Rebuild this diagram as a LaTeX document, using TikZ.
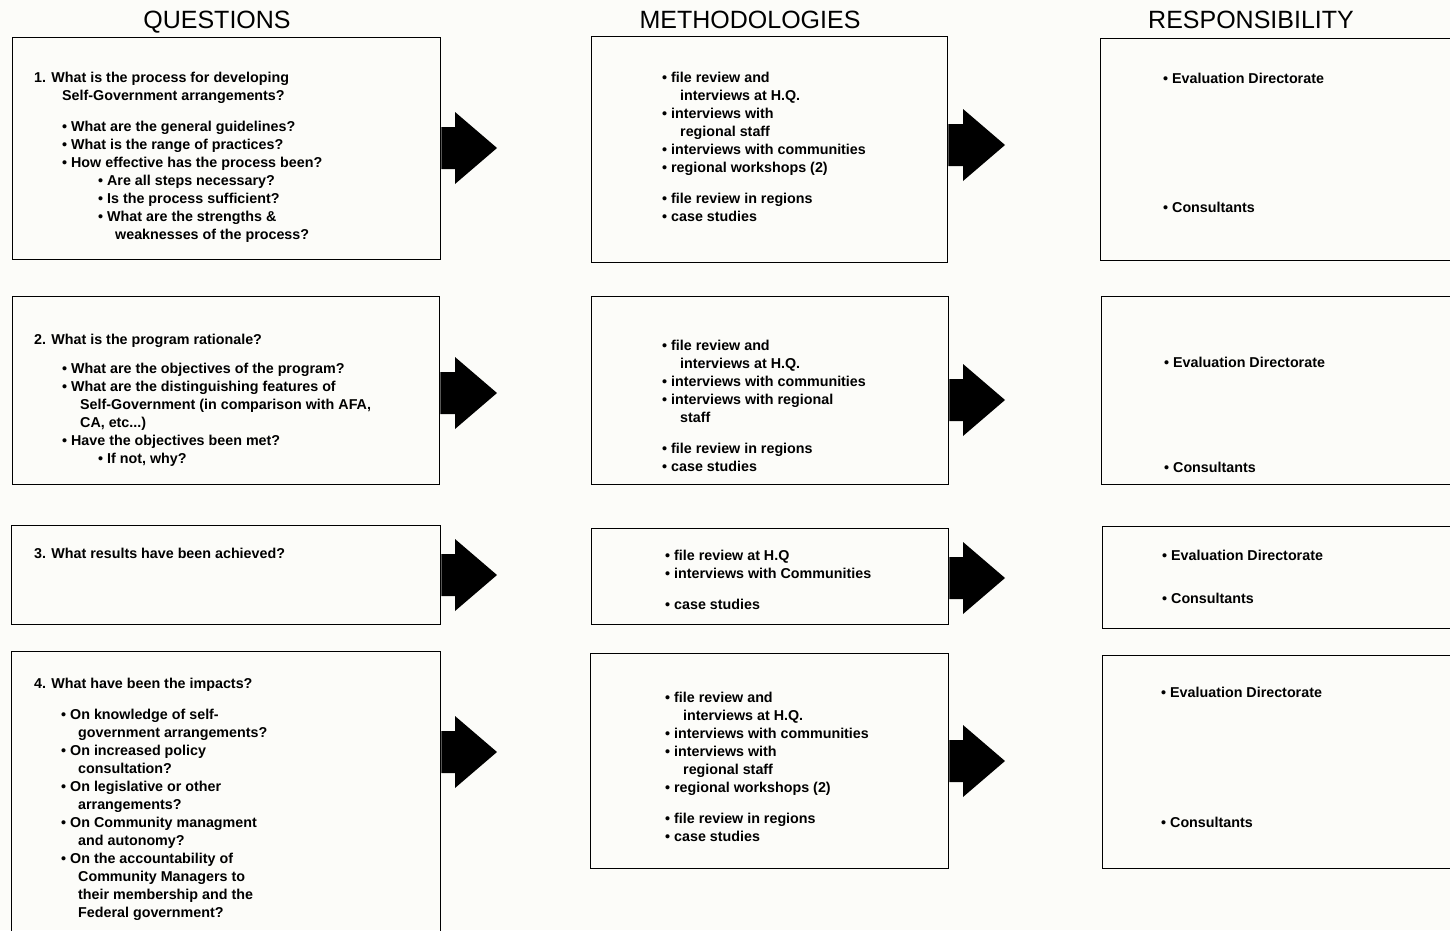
\documentclass[tikz,border=0pt]{standalone}
\usepackage{fontspec}
\setmainfont{Liberation Sans}
\usetikzlibrary{calc}
\definecolor{paper}{RGB}{252,252,249}
\newcommand\fatarrow[2]{\fill[black] ($(#1)+(0,-21)$) -- ($(#2)+(-42,-21)$) -- ($(#2)+(-42,-36)$) -- (#2) -- ($(#2)+(-42,36)$) -- ($(#2)+(-42,21)$) -- ($(#1)+(0,21)$) -- cycle;}
\begin{document}
\begin{tikzpicture}[x=1pt,y=-1pt,
  box/.style={draw=black, line width=1.3pt, inner sep=0pt, anchor=north west},
  txt/.style={anchor=north west, inner sep=0pt, align=left, font=\fontsize{14.3}{18}\selectfont\bfseries},
  title/.style={anchor=base, inner sep=0pt, font=\fontsize{25}{30}\selectfont}]
\useasboundingbox (0,0) rectangle (1450,930);
\clip (0,0) rectangle (1450,930);
\fill[paper] (0,0) rectangle (1450,930);

% titles
\node[title] (tq) at (217,28) {QUESTIONS};
\node[title] (tm) at (750,28) {METHODOLOGIES};
\node[title] (tr) at (1251,28) {RESPONSIBILITY};

% boxes
\node[box, minimum width=428pt, minimum height=222pt] (q1) at (12,37) {};
\node[box, minimum width=427pt, minimum height=188pt] (q2) at (12,296) {};
\node[box, minimum width=429pt, minimum height=99pt] (q3) at (11,525) {};
\node[box, minimum width=429pt, minimum height=300pt] (q4) at (11,651) {};
\node[box, minimum width=356pt, minimum height=226pt] (m1) at (591,36) {};
\node[box, minimum width=357pt, minimum height=188pt] (m2) at (591,296) {};
\node[box, minimum width=357pt, minimum height=96pt] (m3) at (591,528) {};
\node[box, minimum width=358pt, minimum height=215pt] (m4) at (590,653) {};
\node[box, minimum width=360pt, minimum height=222pt] (r1) at (1100,38) {};
\node[box, minimum width=360pt, minimum height=188pt] (r2) at (1101,296) {};
\node[box, minimum width=360pt, minimum height=102pt] (r3) at (1102,526) {};
\node[box, minimum width=360pt, minimum height=213pt] (r4) at (1102,655) {};

% question texts
\node[txt] (q1t) at (34,72) {1. What is the process for developing\\
\hspace*{28pt}Self-Government arrangements?\\[13pt]
\hspace*{28pt}• What are the general guidelines?\\
\hspace*{28pt}• What is the range of practices?\\
\hspace*{28pt}• How effective has the process been?\\
\hspace*{64pt}• Are all steps necessary?\\
\hspace*{64pt}• Is the process sufficient?\\
\hspace*{64pt}• What are the strengths \&\\
\hspace*{81pt}weaknesses of the process?};
\node[txt] (q2t) at (34,334) {2. What is the program rationale?\\[11pt]
\hspace*{28pt}• What are the objectives of the program?\\
\hspace*{28pt}• What are the distinguishing features of\\
\hspace*{46pt}Self-Government (in comparison with AFA,\\
\hspace*{46pt}CA, etc...)\\
\hspace*{28pt}• Have the objectives been met?\\
\hspace*{64pt}• If not, why?};
\node[txt] (q3t) at (34,548) {3. What results have been achieved?};
\node[txt] (q4t) at (34,678) {4. What have been the impacts?\\[13pt]
\hspace*{27pt}• On knowledge of self-\\
\hspace*{44pt}government arrangements?\\
\hspace*{27pt}• On increased policy\\
\hspace*{44pt}consultation?\\
\hspace*{27pt}• On legislative or other\\
\hspace*{44pt}arrangements?\\
\hspace*{27pt}• On Community managment\\
\hspace*{44pt}and autonomy?\\
\hspace*{27pt}• On the accountability of\\
\hspace*{44pt}Community Managers to\\
\hspace*{44pt}their membership and the\\
\hspace*{44pt}Federal government?};

% methodology texts
\node[txt] (m1t) at (662,72) {• file review and\\
\hspace*{18pt}interviews at H.Q.\\
• interviews with\\
\hspace*{18pt}regional staff\\
• interviews with communities\\
• regional workshops (2)\\[13pt]
• file review in regions\\
• case studies};
\node[txt] (m2t) at (662,340) {• file review and\\
\hspace*{18pt}interviews at H.Q.\\
• interviews with communities\\
• interviews with regional\\
\hspace*{18pt}staff\\[13pt]
• file review in regions\\
• case studies};
\node[txt] (m3t) at (665,550) {• file review at H.Q\\
• interviews with Communities\\[13pt]
• case studies};
\node[txt] (m4t) at (665,692) {• file review and\\
\hspace*{18pt}interviews at H.Q.\\
• interviews with communities\\
• interviews with\\
\hspace*{18pt}regional staff\\
• regional workshops (2)\\[13pt]
• file review in regions\\
• case studies};

% responsibility texts
\node[txt] (r1a) at (1163,73) {• Evaluation Directorate};
\node[txt] (r1b) at (1163,202) {• Consultants};
\node[txt] (r2a) at (1164,357) {• Evaluation Directorate};
\node[txt] (r2b) at (1164,462) {• Consultants};
\node[txt] (r3a) at (1162,550) {• Evaluation Directorate};
\node[txt] (r3b) at (1162,593) {• Consultants};
\node[txt] (r4a) at (1161,687) {• Evaluation Directorate};
\node[txt] (r4b) at (1161,817) {• Consultants};

% arrow tips
\coordinate (a1t) at (497,148);
\coordinate (a2t) at (497,393);
\coordinate (a3t) at (497,575);
\coordinate (a4t) at (497,752);
\coordinate (b1t) at (1005,145);
\coordinate (b2t) at (1005,400);
\coordinate (b3t) at (1005,578);
\coordinate (b4t) at (1005,761);
\coordinate (a1s) at (q1.east |- a1t);
\coordinate (a2s) at (q2.east |- a2t);
\coordinate (a3s) at (q3.east |- a3t);
\coordinate (a4s) at (q4.east |- a4t);
\coordinate (b1s) at (m1.east |- b1t);
\coordinate (b2s) at (m2.east |- b2t);
\coordinate (b3s) at (m3.east |- b3t);
\coordinate (b4s) at (m4.east |- b4t);
\fatarrow{a1s}{a1t}
\fatarrow{a2s}{a2t}
\fatarrow{a3s}{a3t}
\fatarrow{a4s}{a4t}
\fatarrow{b1s}{b1t}
\fatarrow{b2s}{b2t}
\fatarrow{b3s}{b3t}
\fatarrow{b4s}{b4t}
\end{tikzpicture}
\end{document}
